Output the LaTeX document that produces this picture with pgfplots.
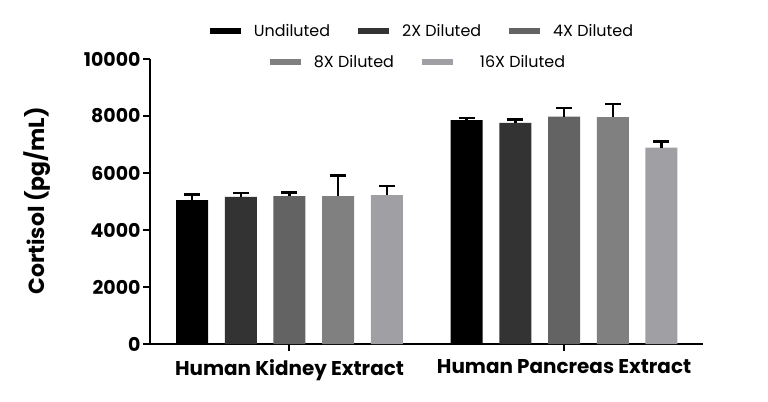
\documentclass[border=0pt]{standalone}
\usepackage{fontspec}
\setmainfont{Poppins}
\usepackage{pgfplots}
\usepackage{pgfplotstable}
\pgfplotsset{compat=1.18}
\definecolor{cA}{HTML}{000000}
\definecolor{cB}{HTML}{333333}
\definecolor{cC}{HTML}{636363}
\definecolor{cD}{HTML}{808080}
\definecolor{cE}{HTML}{A0A0A4}
\pgfplotstableread{
x y e
0 5046 200
1 7852 70
}\undil
\pgfplotstableread{
x y e
0 5165 127
1 7757 119
}\twox
\pgfplotstableread{
x y e
0 5187 130
1 7981 294
}\fourx
\pgfplotstableread{
x y e
0 5187 728
1 7958 468
}\eightx
\pgfplotstableread{
x y e
0 5222 330
1 6890 223
}\sixteenx
\pgfplotsset{
  legimg/.style={legend image code/.code={\fill[##1,draw=none] (0bp,-3bp) rectangle (31bp,3bp);}},
}
\begin{document}
\begin{tikzpicture}[x=1bp,y=1bp]
\path[use as bounding box] (0,0) rectangle (768,401);
\begin{axis}[
  at={(150bp,57bp)}, anchor=south west,
  scale only axis, width=553bp, height=285bp,
  xmin=-0.508, xmax=1.506, ymin=0, ymax=10000,
  axis lines=left, axis line style={-, line width=2bp},
  ybar=16.7bp, bar width=32bp,
  xtick={0,1}, xticklabels={Human Kidney Extract, Human Pancreas Extract},
  ytick={0,2000,4000,6000,8000,10000},
  tick align=outside, major tick length=7bp, tick style={line width=2bp, black},
  scaled y ticks=false,
  /pgf/number format/1000 sep={}, /pgf/number format/assume math mode=true,
  yticklabel style={font=\bfseries\fontsize{19}{21}\selectfont, xshift=1bp},
  xticklabel style={font=\bfseries\fontsize{20}{22}\selectfont, yshift=-5bp},
  ylabel={Cortisol (pg/mL)},
  ylabel style={font=\bfseries\fontsize{22}{24}\selectfont, at={(axis description cs:-0.2043,0.502)}, anchor=center},
  legimg,
  legend columns=3,
  legend style={at={(axis description cs:0.4928,1.098)}, anchor=center, draw=none, fill=none,
    font=\fontsize{16}{18}\selectfont, cells={anchor=west},
    /tikz/every odd column/.append style={column sep=11bp},
    /tikz/every even column/.append style={column sep=26bp}},
  error bars/y dir=plus, error bars/y explicit,
  error bars/error bar style={draw=black, line width=2.5bp, solid},
  error bars/error mark options={draw=black, line width=2.5bp, mark size=8bp, rotate=90, solid},
]
\addplot[fill=cA, draw=none] table[x=x,y=y,y error=e]{\undil};
\addplot[fill=cB, draw=none] table[x=x,y=y,y error=e]{\twox};
\addplot[fill=cC, draw=none] table[x=x,y=y,y error=e]{\fourx};
\addplot[fill=cD, draw=none] table[x=x,y=y,y error=e]{\eightx};
\addplot[fill=cE, draw=none] table[x=x,y=y,y error=e]{\sixteenx};
\legend{Undiluted, 2X Diluted, 4X Diluted}
\end{axis}
\begin{axis}[
  at={(150bp,57bp)}, anchor=south west,
  scale only axis, width=553bp, height=285bp,
  xmin=0, xmax=1, ymin=0, ymax=1, hide axis,
  legimg,
  legend columns=2,
  legend style={at={(axis description cs:0.4855,0.989)}, anchor=center, draw=none, fill=none,
    font=\fontsize{16}{18}\selectfont, cells={anchor=west},
    /tikz/every odd column/.append style={column sep=11bp},
    /tikz/every even column/.append style={column sep=26bp}},
]
\addlegendimage{fill=cD, draw=none}
\addlegendentry{8X Diluted}
\addlegendimage{fill=cE, draw=none}
\addlegendentry{\hspace{14bp}16X Diluted}
\end{axis}
\end{tikzpicture}
\end{document}
